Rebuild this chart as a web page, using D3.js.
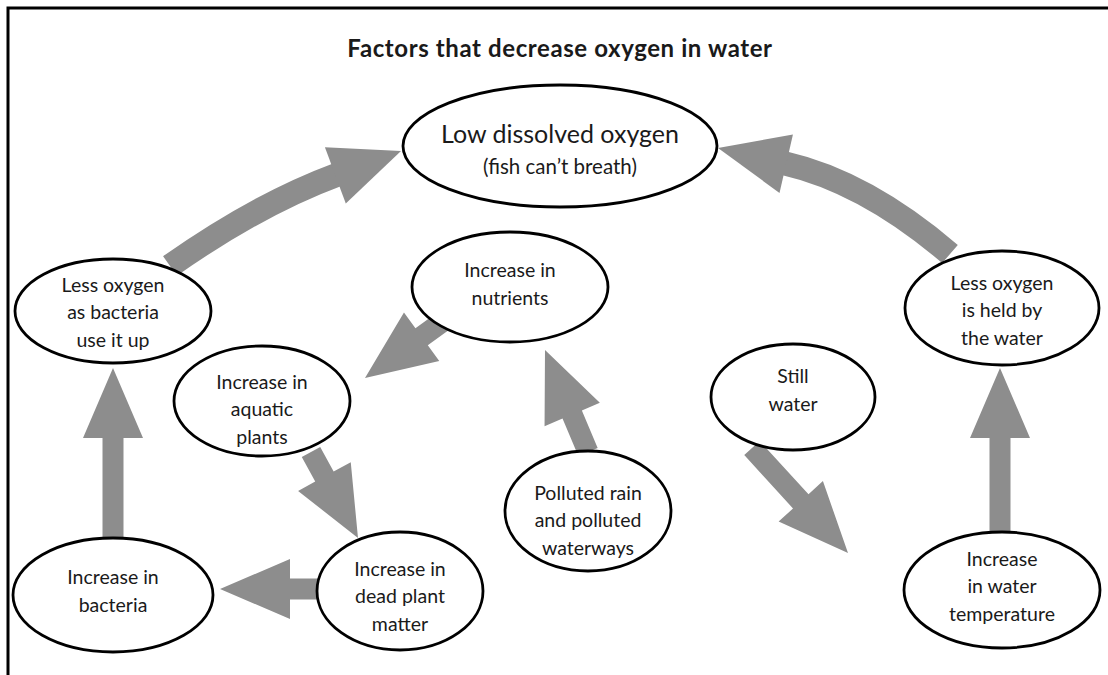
<!DOCTYPE html>
<html>
<head>
<meta charset="utf-8">
<script src="https://cdn.jsdelivr.net/npm/d3@7"></script>
<style>
  html, body { margin: 0; padding: 0; background: #fff; }
  svg { display: block; }
  text { font-family: Lato, "Open Sans", sans-serif; fill: #1a1a1a; }
</style>
</head>
<body>
<svg id="chart" width="1108" height="675"></svg>
<script>
// ---------- data ----------
const title = "Factors that decrease oxygen in water";

const nodeIds = ["low", "bactO2", "nutrients", "plants", "polluted", "still", "heldO2", "bacteria", "dead", "temp"];
const nodeLabels = [
  ["Low dissolved oxygen", "(fish can\u2019t breath)"],
  ["Less oxygen", "as bacteria", "use it up"],
  ["Increase in", "nutrients"],
  ["Increase in", "aquatic", "plants"],
  ["Polluted rain", "and polluted", "waterways"],
  ["Still", "water"],
  ["Less oxygen", "is held by", "the water"],
  ["Increase in", "bacteria"],
  ["Increase in", "dead plant", "matter"],
  ["Increase", "in water", "temperature"]
];

// cause -> effect
const linkFrom = ["bactO2", "heldO2", "nutrients", "plants", "polluted", "dead", "bacteria", "still", "temp"];
const linkTo   = ["low",    "low",    "plants",    "dead",   "nutrients","bacteria","bactO2", "temp",  "heldO2"];

// ---------- layout (positions / sizes) ----------
const layout = {
  low:       {cx: 560, cy: 146, rx: 157, ry: 61, dy: 0},
  bactO2:    {cx: 113, cy: 311, rx: 98,  ry: 52, dy: 1},
  nutrients: {cx: 510, cy: 287, rx: 98,  ry: 55, dy: -3},
  plants:    {cx: 262, cy: 401, rx: 88,  ry: 55, dy: 8},
  polluted:  {cx: 588, cy: 511, rx: 83,  ry: 60, dy: 9},
  still:     {cx: 793, cy: 397, rx: 82,  ry: 53, dy: -7},
  heldO2:    {cx: 1002,cy: 308, rx: 97,  ry: 57, dy: 2},
  bacteria:  {cx: 113, cy: 595, rx: 100, ry: 57, dy: -4},
  dead:      {cx: 400, cy: 591, rx: 83,  ry: 59, dy: 5},
  temp:      {cx: 1002,cy: 590, rx: 98,  ry: 58, dy: -4}
};

// arrow geometry: start point, optional control point, tip
const arrowGeom = [
  {s: [170, 266], c: [258, 204], t: [401, 151]},
  {s: [950, 254], c: [866, 182], t: [718, 148]},
  {s: [442, 322], t: [365, 378]},
  {s: [311, 452], t: [358, 538]},
  {s: [588, 452], t: [545, 350]},
  {s: [318, 589], t: [220, 589]},
  {s: [113, 538], t: [113, 368]},
  {s: [752, 448], t: [848, 553]},
  {s: [1000, 532], t: [1000, 368]}
];

// ---------- drawing ----------
const svg = d3.select("#chart");
const gray = "#8d8d8d";
const shaftW = 21, curveW = 24, headLen = 70, headHalf = 30;

// frame (top + left only)
svg.append("path")
  .attr("d", d3.line()([[8, 675], [8, 8], [1108, 8]]))
  .attr("fill", "none").attr("stroke", "#000").attr("stroke-width", 3);

// title
svg.append("text")
  .attr("x", 560).attr("y", 57)
  .attr("text-anchor", "middle")
  .attr("font-size", 24).attr("font-weight", "bold")
  .attr("letter-spacing", 0.6)
  .text(title);

// arrows
const gA = svg.append("g");
linkFrom.forEach((f, i) => {
  const g = arrowGeom[i];
  const T = g.t;
  const ref = g.c || g.s;
  let ux = T[0] - ref[0], uy = T[1] - ref[1];
  const L = Math.hypot(ux, uy); ux /= L; uy /= L;
  const nx = -uy, ny = ux;
  const B = [T[0] - ux * headLen, T[1] - uy * headLen];
  if (g.c) {
    const p = d3.path();
    p.moveTo(g.s[0], g.s[1]);
    p.quadraticCurveTo(g.c[0], g.c[1], B[0] + ux * 2, B[1] + uy * 2);
    gA.append("path").attr("d", p.toString())
      .attr("fill", "none").attr("stroke", gray).attr("stroke-width", curveW);
    gA.append("path")
      .attr("d", d3.line()([[B[0] + nx * headHalf, B[1] + ny * headHalf], T, [B[0] - nx * headHalf, B[1] - ny * headHalf]]) + "Z")
      .attr("fill", gray);
  } else {
    const h = shaftW / 2;
    const pts = [
      [g.s[0] + nx * h, g.s[1] + ny * h],
      [B[0] + nx * h, B[1] + ny * h],
      [B[0] + nx * headHalf, B[1] + ny * headHalf],
      T,
      [B[0] - nx * headHalf, B[1] - ny * headHalf],
      [B[0] - nx * h, B[1] - ny * h],
      [g.s[0] - nx * h, g.s[1] - ny * h]
    ];
    gA.append("path").attr("d", d3.line()(pts) + "Z").attr("fill", gray);
  }
});

// nodes
const gN = svg.append("g");
nodeIds.forEach((id, i) => {
  const p = layout[id];
  const g = gN.append("g").attr("transform", `translate(${p.cx},${p.cy})`);
  g.append("ellipse").attr("rx", p.rx).attr("ry", p.ry)
    .attr("fill", "#fff").attr("stroke", "#000").attr("stroke-width", 2.8);
  const lines = nodeLabels[i];
  if (id === "low") {
    g.append("text").attr("text-anchor", "middle").attr("y", -3)
      .attr("font-size", 25).text(lines[0]);
    g.append("text").attr("text-anchor", "middle").attr("y", 28)
      .attr("font-size", 20.5).text(lines[1]);
  } else {
    const lh = 27.5;
    const y0 = p.dy - (lines.length - 1) * lh / 2 + 7;
    lines.forEach((t, k) => {
      g.append("text").attr("text-anchor", "middle")
        .attr("y", y0 + k * lh).attr("font-size", 19.5).text(t);
    });
  }
});
</script>
</body>
</html>
